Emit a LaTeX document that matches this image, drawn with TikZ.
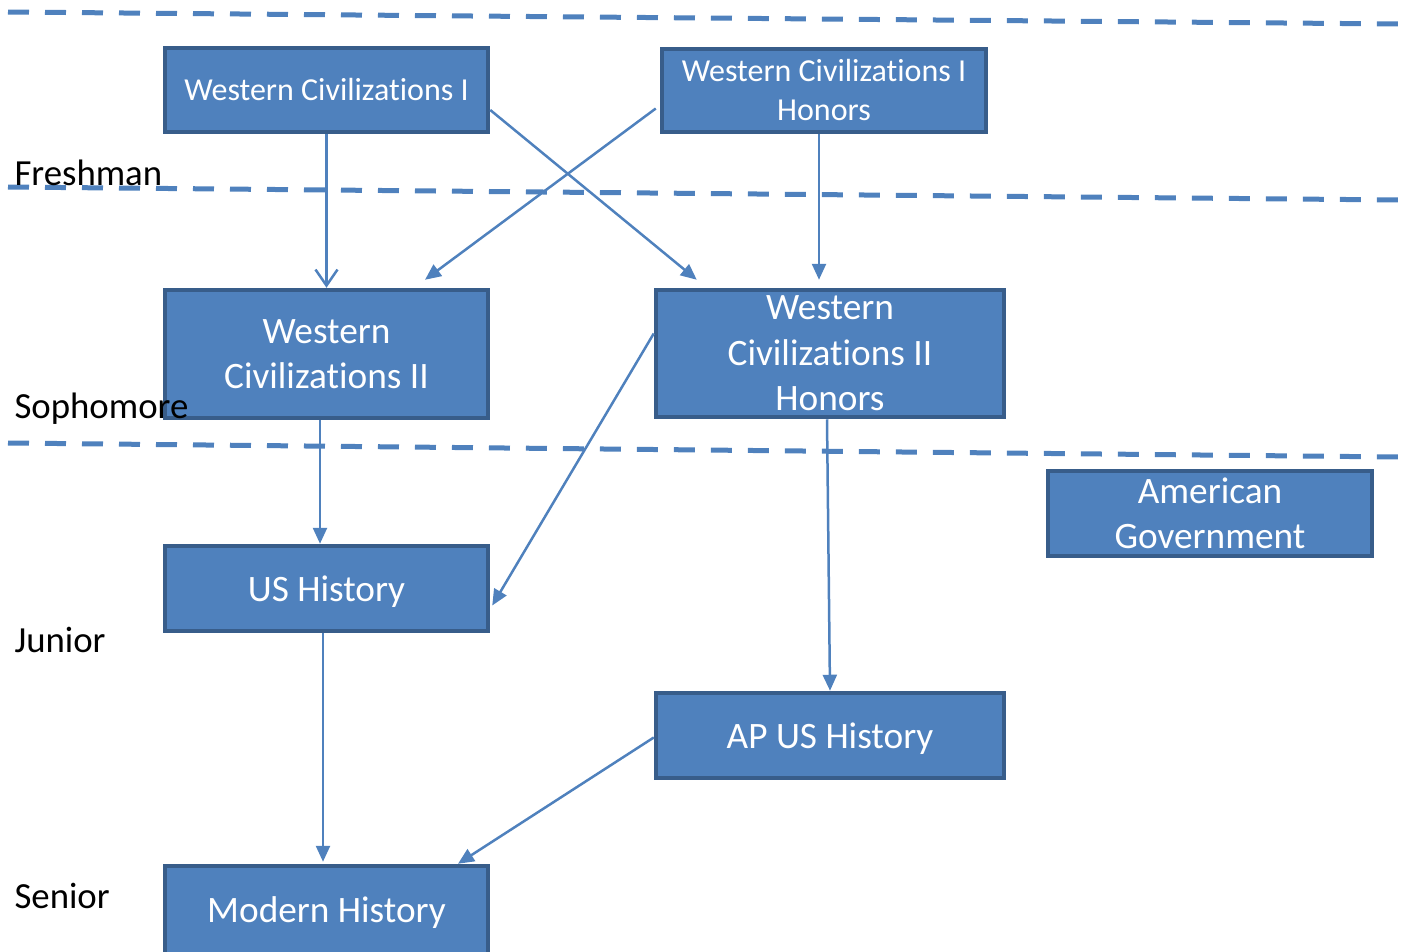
\documentclass[tikz,border=0pt]{standalone}
\usepackage{fontspec}
\setmainfont[Ligatures=NoCommon]{Carlito}
\usepackage{tikz}
\usetikzlibrary{positioning, arrows.meta, calc}
\definecolor{boxfill}{HTML}{4F81BD}
\definecolor{boxline}{HTML}{385D8A}
\begin{document}
\begin{tikzpicture}[x=1pt, y=-1pt, >={Triangle[length=16pt,width=14pt]},
  course/.style={draw=boxline, fill=boxfill, line width=4.5pt, text=white, align=center, inner sep=0},
  small/.style={font=\fontsize{32}{39}\selectfont},
  big/.style={font=\fontsize{37.3}{45.5}\selectfont},
  flat/.style={text depth=0pt},
  level/.style={anchor=base west, font=\fontsize{36.8}{44}\selectfont},
  divider/.style={draw=boxfill, line width=5pt, dash pattern=on 21pt off 16pt},
  link/.style={draw=boxfill, line width=2.5pt, ->}]
  \useasboundingbox (0,0) rectangle (1413,951);
  % levels
  \draw[divider] (8,12) -- (1400,24);
  \draw[divider] (8,187) -- (1400,200);
  \draw[divider] (8,443) -- (1400,457);
  % nodes
  \node[course, small, minimum width=323, minimum height=84] (wcOne) at (326.5,90) {Western Civilizations I};
  \node[course, small, minimum width=324, minimum height=83] (wcOneH) at (824,90.5) {Western Civilizations I\\Honors};
  \node[course, big, minimum width=323, minimum height=128] (wcTwo) at (326.5,354) {Western\\Civilizations II};
  \node[course, big, minimum width=348, minimum height=127] (wcTwoH) at (830,353.5) {Western\\Civilizations II\\Honors};
  \node[course, big, flat, minimum width=323, minimum height=85] (usHist) at (326.5,588.5) {US History};
  \node[course, big, flat, minimum width=348, minimum height=85] (apHist) at (830,735.5) {AP US History};
  \node[course, big, minimum width=324, minimum height=85] (amGov) at (1210,513.5) {American\\Government};
  \node[course, big, flat, minimum width=323, minimum height=88] (modHist) at (326.5,910) {Modern History};
  % level names, on top of the boxes
  \node[level] (fresh) at (11,185) {Freshman};
  \node[level] (soph) at (11,418) {Sophomore};
  \node[level] (jun) at (11,652) {Junior};
  \node[level] (sen) at (11,908) {Senior};
  % arrows
  \draw[link, -{Straight Barb[length=16pt,width=22pt]}] (wcOne.south) -- (wcTwo.north);
  \draw[link] ($(wcOne.east)+(0,20)$) -- ($(wcTwoH.north west)+(43,-8)$);
  \draw[link] ($(wcOneH.west)+(-4,18)$) -- ($(wcTwo.north)+(98.5,-8)$);
  \draw[link] ($(wcOneH.south)+(-5,0)$) -- ($(wcTwoH.north)+(-11,-8)$);
  \draw[link] ($(wcTwo.south)+(-6.5,0)$) -- ($(usHist.north)+(-6.5,0)$);
  \draw[link] ($(wcTwoH.west)+(0,-20)$) -- ($(usHist.east)+(2,17)$);
  \draw[link] ($(wcTwoH.south)+(-3,0)$) -- (apHist.north);
  \draw[link] ($(usHist.south)+(-3.5,0)$) -- ($(modHist.north)+(-3.5,-2)$);
  \draw[link] ($(apHist.west)+(0,2)$) -- ($(modHist.north)+(131.5,0)$);
\end{tikzpicture}
\end{document}
